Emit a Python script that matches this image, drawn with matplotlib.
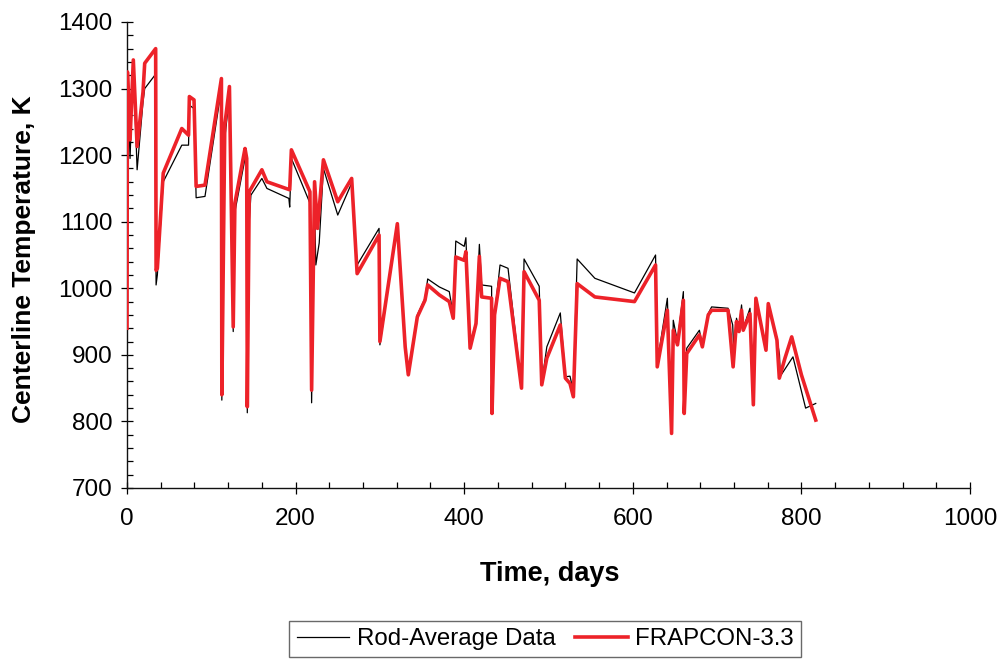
import matplotlib
matplotlib.use("Agg")
import matplotlib.pyplot as plt
from matplotlib.ticker import MultipleLocator

plt.rcParams['font.family'] = ['Liberation Sans', 'DejaVu Sans']

# FRAPCON-3.3 series
frap_days = [0, 0.5, 3.6, 7.5, 12, 19, 21, 34, 34.5, 36, 43, 65, 73, 74, 79.5, 82, 92.5,
             112, 112.5, 116, 121.5, 126, 128, 140, 142, 142.7, 145, 160, 166, 193, 195,
             217, 219, 222.5, 226, 233, 250, 266.5, 273, 299, 300, 320.7, 330, 333.7,
             344.4, 353.5, 356.7, 370.5, 382.3, 387, 390, 400, 402, 407, 414, 418, 420.7,
             432.5, 433, 436, 442.5, 452, 468, 471, 489, 492, 498, 514, 520, 525.5, 529.5,
             534, 555, 602, 627, 629, 641, 646, 648, 653, 660, 661, 664, 679, 682.5, 689.5,
             693.5, 713, 719, 723, 726, 729, 731, 739, 743, 746, 758, 760.7, 771, 773.8,
             780.5, 788.5, 800, 817]
frap_temp = [940, 1325, 1223, 1343, 1213, 1295, 1338, 1360, 1027, 1030, 1173, 1240, 1230, 1288, 1283, 1153, 1155,
             1315, 840, 1245, 1303, 942, 1128, 1210, 1195, 822, 1145, 1178, 1160, 1148, 1208,
             1145, 847, 1160, 1090, 1193, 1130, 1165, 1022, 1080, 920, 1097, 912, 870,
             957, 982, 1005, 990, 980, 955, 1047, 1042, 1055, 910, 947, 1048, 987,
             985, 812, 960, 1015, 1010, 850, 1025, 982, 855, 895, 945, 865, 857, 837,
             1007, 987, 980, 1035, 882, 967, 782, 937, 915, 982, 812, 902, 930, 912, 960,
             967, 967, 882, 950, 935, 967, 937, 962, 825, 985, 907, 977, 922, 865,
             895, 927, 870, 802]

# Rod-average data series
rod_days = [0, 0.5, 3.6, 7.5, 12, 19, 21, 33, 34.5, 36, 43, 65, 73, 74, 79.5, 82, 92.5,
            112, 112.5, 116, 121.5, 126, 128, 140, 142, 142.7, 145, 147, 160, 166, 192, 193, 195,
            217, 219, 222, 224, 228, 233, 250, 266.5, 273, 299, 300, 320.7, 330, 333.7,
            344.4, 353.5, 356.7, 370.5, 382.3, 387, 390, 400, 402, 407, 414, 418, 420.7,
            432.5, 433, 436, 442.5, 452, 468, 471, 489, 492, 498, 514, 520, 525.5, 529.5,
            534, 555, 602, 627, 629, 641, 646, 648, 653, 660, 661, 664, 679, 682.5, 689.5,
            693.5, 713, 718.5, 720, 723, 726, 729, 731, 739, 743, 746, 758, 760.7, 771, 774,
            775, 790, 805, 817]
rod_temp = [935, 1320, 1195, 1340, 1178, 1280, 1300, 1320, 1005, 1020, 1160, 1215, 1215, 1275, 1270, 1136, 1138,
            1300, 832, 1225, 1290, 935, 1115, 1195, 1185, 813, 1100, 1140, 1165, 1150, 1135, 1122, 1195,
            1128, 828, 1150, 1035, 1068, 1180, 1110, 1158, 1035, 1090, 915, 1095, 915, 875,
            960, 985, 1014, 1002, 995, 960, 1071, 1063, 1076, 915, 950, 1066, 1005,
            1003, 815, 960, 1035, 1030, 852, 1044, 1003, 858, 912, 963, 867, 868, 845,
            1044, 1015, 993, 1050, 888, 985, 790, 952, 920, 995, 815, 910, 937, 915, 962,
            972, 970, 945, 900, 955, 940, 975, 940, 970, 830, 980, 910, 975, 925, 900,
            868, 897, 820, 827]

fig = plt.figure(figsize=(10.02, 6.62), dpi=100)
ax = fig.add_axes([127/1002, 1-488/662, (970-127)/1002, (488-22)/662])

ax.plot(rod_days, rod_temp, color='black', lw=0.9, label='Rod-Average Data', zorder=2)
ax.plot(frap_days, frap_temp, color='#ED2229', lw=2.6, label='FRAPCON-3.3', zorder=3)

ax.set_xlim(0, 1000)
ax.set_ylim(700, 1400)
ax.xaxis.set_major_locator(MultipleLocator(200))
ax.xaxis.set_minor_locator(MultipleLocator(40))
ax.yaxis.set_major_locator(MultipleLocator(100))
ax.yaxis.set_minor_locator(MultipleLocator(20))
ax.tick_params(which='major', direction='inout', length=8.5, width=0.9, labelsize=17.5, pad=6)
ax.tick_params(which='minor', direction='in', length=4, width=0.9)
ax.tick_params(axis='x', which='major', pad=10)
for s in ['top', 'right']:
    ax.spines[s].set_visible(False)
for s in ['left', 'bottom']:
    ax.spines[s].set_linewidth(1.0)
    ax.spines[s].set_color('#111111')

ax.set_xlabel('Time, days', fontsize=19.5, fontweight='bold')
ax.set_ylabel('Centerline Temperature, K', fontsize=19, fontweight='bold')
ax.xaxis.set_label_coords((550-127)/843, (488-561)/466)
ax.yaxis.set_label_coords((36-127)/843, 0.49)

leg = fig.legend(loc='upper center', bbox_to_anchor=(545/1002, 1-621/662), ncol=2,
                 fontsize=17.3, frameon=True, fancybox=False, edgecolor='#444444',
                 handlelength=2.2, handletextpad=0.3, columnspacing=0.8, borderpad=0.3,
                 borderaxespad=0)
leg.get_frame().set_linewidth(1.0)

fig.savefig('out.png', dpi=100)
